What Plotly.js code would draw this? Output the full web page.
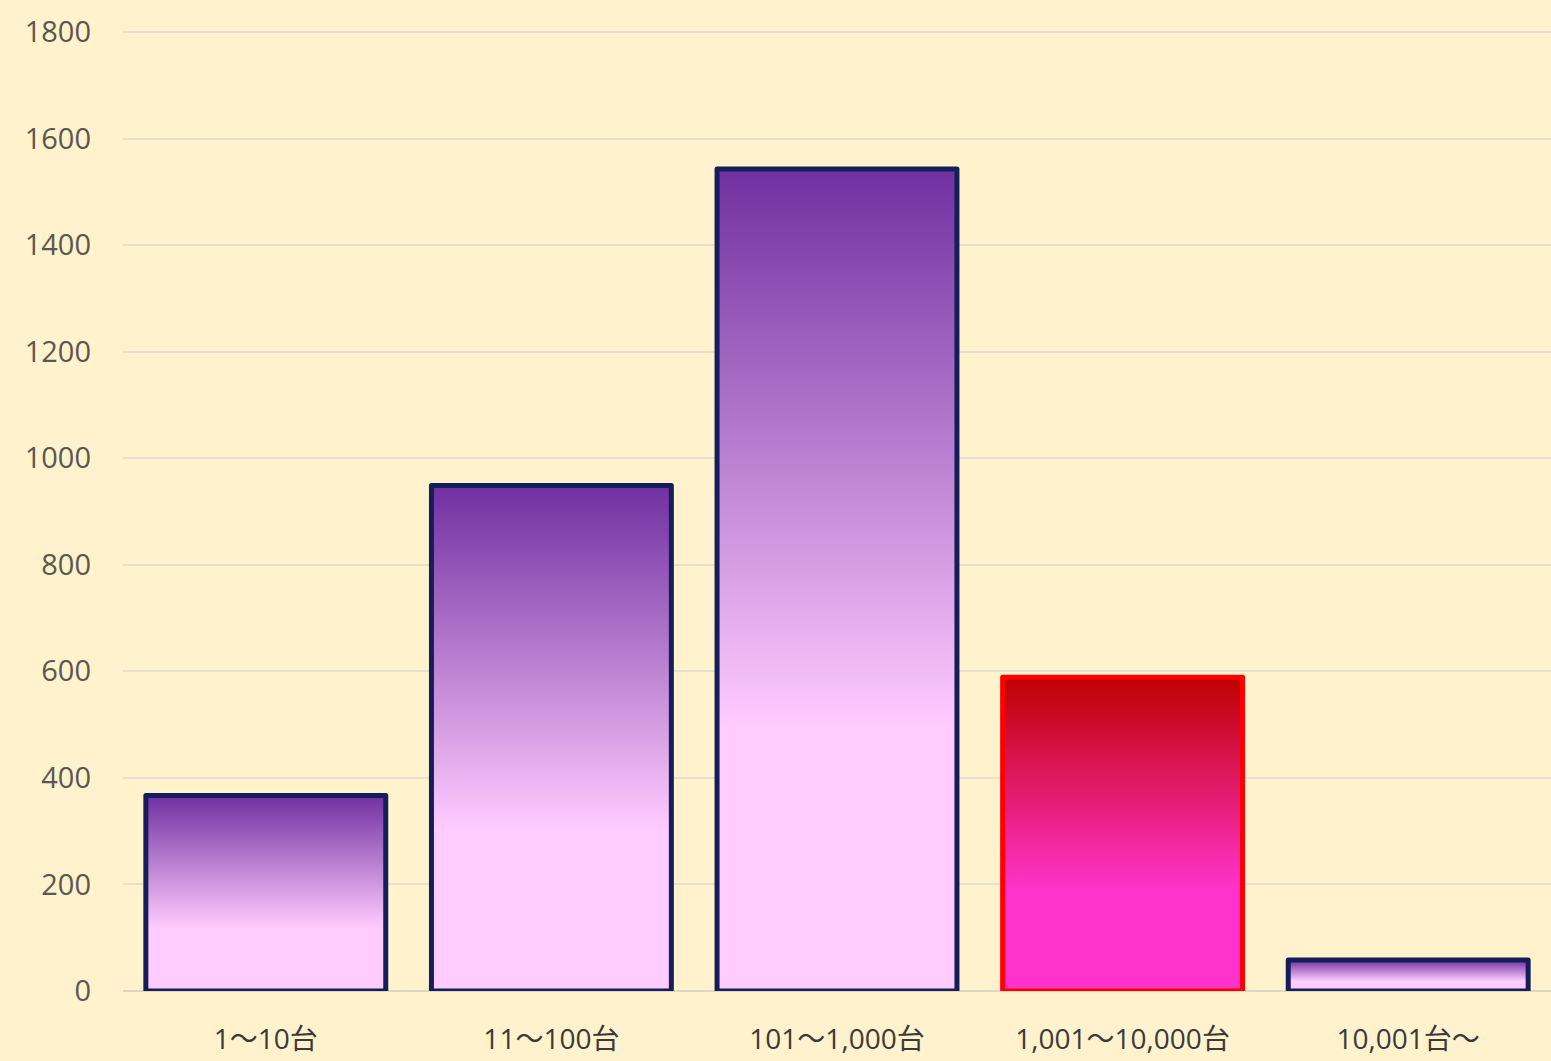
<!DOCTYPE html>
<html>
<head>
<meta charset="utf-8">
<script src="https://cdn.plot.ly/plotly-3.0.1.min.js"></script>
<style>
  html, body { margin: 0; padding: 0; background: #FFF2CC; }
  #chart { width: 1551px; height: 1061px; }
</style>
</head>
<body>
<div id="chart"></div>
<script>
// Data
const categories = ["1〜10台", "11〜100台", "101〜1,000台", "1,001〜10,000台", "10,001台〜"];
const counts = [367, 949, 1543, 589, 58];
const highlighted = [false, false, false, true, false];
const yTicks = [0, 200, 400, 600, 800, 1000, 1200, 1400, 1600, 1800];

const purpleTop = "#7030A0", pinkBottom = "#FFCCFF";
const redTop = "#C00000", magentaBottom = "#FF33CC";

const trace = {
  type: "bar",
  x: categories,
  y: counts,
  marker: {
    color: highlighted.map(h => h ? "#E0206A" : "#B77ECF"),
    line: { color: highlighted.map(h => h ? "#FF0000" : "#141E5A"), width: 5 }
  },
  hoverinfo: "x+y"
};

const layout = {
  width: 1551,
  height: 1061,
  margin: { l: 123, r: 0, t: 30, b: 70 },
  paper_bgcolor: "#FFF2CC",
  plot_bgcolor: "#FFF2CC",
  bargap: 0.16,
  showlegend: false,
  font: { family: "'Open Sans', 'Noto Sans CJK JP', sans-serif" },
  xaxis: {
    type: "category",
    showgrid: false,
    showline: false,
    zeroline: false,
    ticks: "",
    ticklabelstandoff: 29,
    tickfont: { size: 28, color: "#3A3A3A" }
  },
  yaxis: {
    range: [0, 1803.75],
    tickvals: yTicks,
    ticktext: yTicks.map(String),
    showgrid: true,
    gridcolor: "#E6DFCA",
    gridwidth: 2,
    zeroline: true,
    zerolinecolor: "#DCD6C4",
    zerolinewidth: 2,
    showline: false,
    ticks: "",
    ticklabelstandoff: 31,
    tickfont: { size: 29, color: "#5A5750" }
  }
};

function addGradients(gd) {
  const svg = gd.querySelector("svg.main-svg");
  const ns = "http://www.w3.org/2000/svg";
  let defs = document.createElementNS(ns, "defs");
  svg.insertBefore(defs, svg.firstChild);
  function grad(id, top, bottom) {
    const g = document.createElementNS(ns, "linearGradient");
    g.setAttribute("id", id);
    g.setAttribute("x1", "0"); g.setAttribute("y1", "0");
    g.setAttribute("x2", "0"); g.setAttribute("y2", "1");
    [[0, top], [0.68, bottom], [1, bottom]].forEach(([o, c]) => {
      const s = document.createElementNS(ns, "stop");
      s.setAttribute("offset", o);
      s.setAttribute("stop-color", c);
      g.appendChild(s);
    });
    defs.appendChild(g);
  }
  grad("gradPurple", purpleTop, pinkBottom);
  grad("gradRed", redTop, magentaBottom);
  const paths = gd.querySelectorAll(".barlayer .point path");
  paths.forEach((p, i) => {
    p.style.fill = highlighted[i] ? "url(#gradRed)" : "url(#gradPurple)";
    p.style.strokeLinejoin = "round";
  });
}

Plotly.newPlot("chart", [trace], layout, { displayModeBar: false, staticPlot: true })
  .then(addGradients);
</script>
</body>
</html>
